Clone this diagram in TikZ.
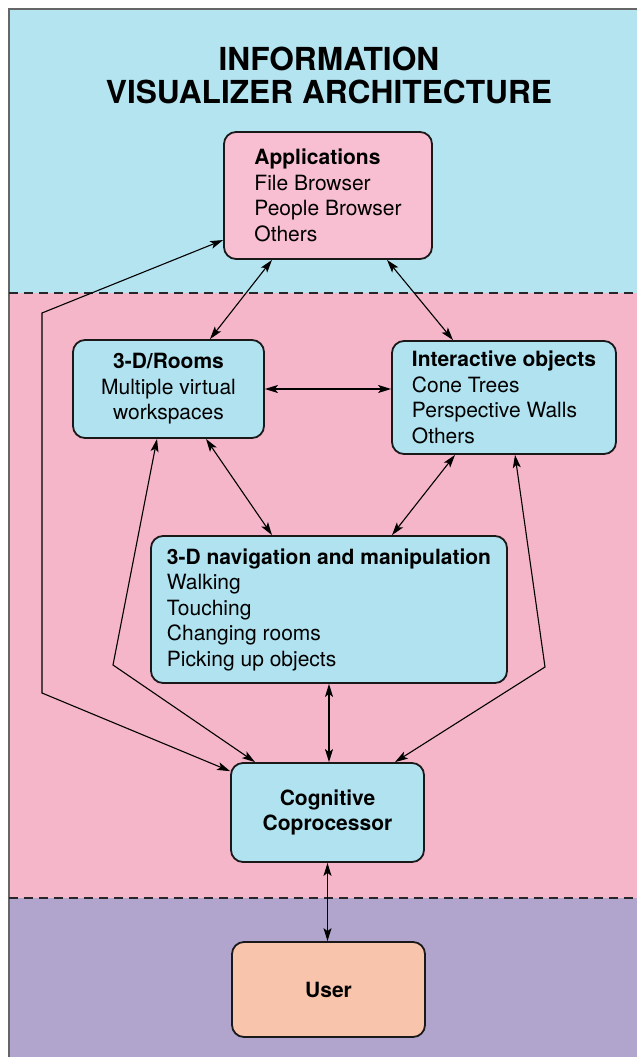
\documentclass[tikz,border=0pt]{standalone}
\usepackage{fontspec}
\setmainfont{TeX Gyre Heros}
\usepackage{tikz}
\usetikzlibrary{arrows.meta,positioning}

\definecolor{bgblue}{RGB}{180,228,240}
\definecolor{bgpink}{RGB}{245,182,202}
\definecolor{bgpurple}{RGB}{178,165,205}
\definecolor{appfill}{RGB}{248,190,210}
\definecolor{boxblue}{RGB}{176,226,240}
\definecolor{userfill}{RGB}{248,196,172}

\begin{document}
\begin{tikzpicture}[
  x=1pt, y=-1pt,
  box/.style={draw=black!90, line width=1.8pt, rounded corners=12pt, inner sep=0pt,
    font=\fontsize{21pt}{25.5pt}\selectfont},
  apps/.style={box, fill=appfill, align=left},
  layer/.style={box, fill=boxblue},
  person/.style={box, fill=userfill, font=\fontsize{21pt}{25.5pt}\selectfont\bfseries},
  heading/.style={align=center, font=\fontsize{31.7pt}{33pt}\selectfont\bfseries},
  divider/.style={dash pattern=on 9pt off 6pt, line width=1.2pt, black!85},
  arrow/.style={{Stealth[length=13pt,width=8pt,inset=3pt]}-{Stealth[length=13pt,width=8pt,inset=3pt]}, line width=1.1pt}
]
\useasboundingbox (0,0) rectangle (637,1057);

% bands
\fill[bgblue] (9,9) rectangle (637,293);
\fill[bgpink] (9,293) rectangle (637,898);
\fill[bgpurple] (9,898) rectangle (637,1057);
\draw[black!60, line width=1.4pt] (9,1057) -- (9,9) -- (637,9);
\draw[divider] (9,293) -- (637,293);
\draw[divider] (9,898) -- (637,898);

\node[heading] (title) at (329,75) {INFORMATION\\VISUALIZER ARCHITECTURE};

\node[apps, minimum width=208pt, minimum height=127pt] (apps) at (328,195.5)
  {\textbf{Applications}\\File Browser\\People Browser\\Others};
\node[layer, align=center, minimum width=191pt, minimum height=98pt] (rooms) at (168.5,389)
  {\textbf{3-D/Rooms}\\Multiple virtual\\workspaces};
\node[layer, align=left, minimum width=224pt, minimum height=113pt] (objects) at (504,397.5)
  {\textbf{Interactive objects}\\Cone Trees\\Perspective Walls\\Others};
\node[layer, align=left, minimum width=356pt, minimum height=147pt] (nav) at (329,609.5)
  {\textbf{3-D navigation and manipulation}\\Walking\\Touching\\Changing rooms\\Picking up objects};
\node[layer, align=center, minimum width=193pt, minimum height=99pt,
  font=\fontsize{21pt}{25.5pt}\selectfont\bfseries] (cog) at (327.5,812.5)
  {Cognitive\\Coprocessor};
\node[person, minimum width=193pt, minimum height=95pt] (user) at (328.5,989.5) {User};

\coordinate (lefttop) at (42,313);
\coordinate (leftbottom) at (42,693);
\coordinate (roomsbend) at (113,665);
\coordinate (objectsbend) at (545,667);

\draw[arrow] ([xshift=-56pt]apps.south) -- ([xshift=41.5pt]rooms.north);
\draw[arrow] ([xshift=59pt]apps.south) -- ([xshift=-51pt]objects.north);
\draw[arrow] (rooms.east) -- (rooms.east -| objects.west);
\draw[arrow] ([xshift=37.5pt]rooms.south) -- ([xshift=-57pt]nav.north);
\draw[arrow] ([xshift=-49pt]objects.south) -- ([xshift=63pt]nav.north);
\draw[arrow] (nav.south) -- (nav.south |- cog.north);
\draw[arrow] (cog.south) -- (cog.south |- user.north);
\draw[arrow] (apps.203) -- (lefttop) -- (leftbottom) -- (cog.157);
\draw[arrow] ([xshift=-11.5pt]rooms.south) -- (roomsbend) -- ([xshift=-72.5pt]cog.north);
\draw[arrow] ([xshift=11pt]objects.south) -- (objectsbend) -- ([xshift=67.5pt]cog.north);
\end{tikzpicture}
\end{document}
